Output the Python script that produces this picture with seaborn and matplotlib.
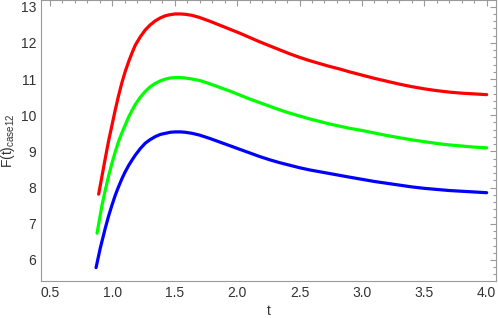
import pandas as pd
import matplotlib
matplotlib.use('Agg')
import matplotlib.pyplot as plt
import seaborn as sns

# values
t_common = [0.943, 0.970, 0.997, 1.023, 1.050, 1.077, 1.103, 1.130, 1.157, 1.184,
            1.224, 1.264, 1.304, 1.344, 1.384, 1.424, 1.464, 1.504, 1.544, 1.584,
            1.64, 1.70, 1.78, 1.86, 1.94, 2.02, 2.10, 2.18, 2.26, 2.34,
            2.42, 2.50, 2.58, 2.66, 2.74, 2.82, 2.90, 3.00, 3.10, 3.20,
            3.30, 3.40, 3.50, 3.60, 3.70, 3.80, 3.90, 4.00]

t_red = [0.890] + t_common
f_red = [7.82,
         8.81, 9.30, 9.73, 10.15, 10.55, 10.91, 11.21, 11.48, 11.72, 11.94,
         12.17, 12.36, 12.50, 12.61, 12.69, 12.75, 12.78, 12.80, 12.80, 12.79,
         12.76, 12.70, 12.60, 12.49, 12.38, 12.27, 12.15, 12.03, 11.92, 11.81,
         11.70, 11.60, 11.51, 11.43, 11.35, 11.28, 11.20, 11.11, 11.02, 10.94,
         10.86, 10.79, 10.73, 10.68, 10.64, 10.61, 10.59, 10.57]

t_green = [0.877, 0.917] + t_common
f_green = [6.74, 7.52,
           7.93, 8.33, 8.68, 8.99, 9.28, 9.52, 9.73, 9.95, 10.13, 10.30,
           10.50, 10.66, 10.79, 10.88, 10.95, 11.00, 11.03, 11.04, 11.04, 11.03,
           11.00, 10.96, 10.87, 10.77, 10.67, 10.56, 10.45, 10.35, 10.25, 10.15,
           10.06, 9.98, 9.90, 9.83, 9.76, 9.70, 9.64, 9.58, 9.51, 9.44,
           9.38, 9.32, 9.27, 9.22, 9.18, 9.15, 9.12, 9.10]

t_blue = [0.869, 0.903] + t_common
f_blue = [5.79, 6.33,
          6.88, 7.22, 7.52, 7.79, 8.03, 8.25, 8.44, 8.61, 8.76, 8.90,
          9.08, 9.23, 9.33, 9.41, 9.47, 9.50, 9.53, 9.54, 9.54, 9.53,
          9.50, 9.45, 9.36, 9.26, 9.16, 9.06, 8.96, 8.86, 8.77, 8.69,
          8.62, 8.55, 8.49, 8.44, 8.39, 8.34, 8.29, 8.23, 8.17, 8.12,
          8.07, 8.02, 7.98, 7.95, 7.92, 7.90, 7.88, 7.86]

df = pd.concat([
    pd.DataFrame({'t': t_red, 'F': f_red, 'curve': 'red'}),
    pd.DataFrame({'t': t_green, 'F': f_green, 'curve': 'green'}),
    pd.DataFrame({'t': t_blue, 'F': f_blue, 'curve': 'blue'}),
])

sns.set_style('white')
plt.rcParams['font.family'] = ['Liberation Sans', 'DejaVu Sans']

fig = plt.figure(figsize=(4.98, 3.18), dpi=100)
ax = fig.add_axes([0.0829, 0.1164, 0.9131, 0.8836])

sns.lineplot(data=df, x='t', y='F', hue='curve', sort=False, estimator=None,
             palette={'red': '#ff0000', 'green': '#00ff00', 'blue': '#0000ff'},
             linewidth=2.3, legend=False, ax=ax)

ax.set_xlim(0.43, 4.075)
ax.set_ylim(5.42, 13.185)
ax.set_xticks([0.5, 1.0, 1.5, 2.0, 2.5, 3.0, 3.5, 4.0])
ax.set_xticks([x / 10 for x in range(5, 41)], minor=True)
ax.set_yticks(range(6, 14))
ax.set_yticks([y / 5 for y in range(28, 66)], minor=True)

for s in ax.spines.values():
    s.set_color('#9a9a9a')
    s.set_linewidth(0.8)
ax.tick_params(which='both', direction='in', top=True, right=True,
               color='#9a9a9a', width=0.8, labelsize=10, labelcolor='#333333')
ax.tick_params(which='major', length=4)
ax.tick_params(which='minor', length=2.2)

ax.set_xlabel('t', fontsize=10, color='#333333', labelpad=3)
ax.set_ylabel(r'F(t)$_{\mathregular{case12}}$', fontsize=10, color='#333333', labelpad=3)

fig.savefig('out.png', dpi=100)
